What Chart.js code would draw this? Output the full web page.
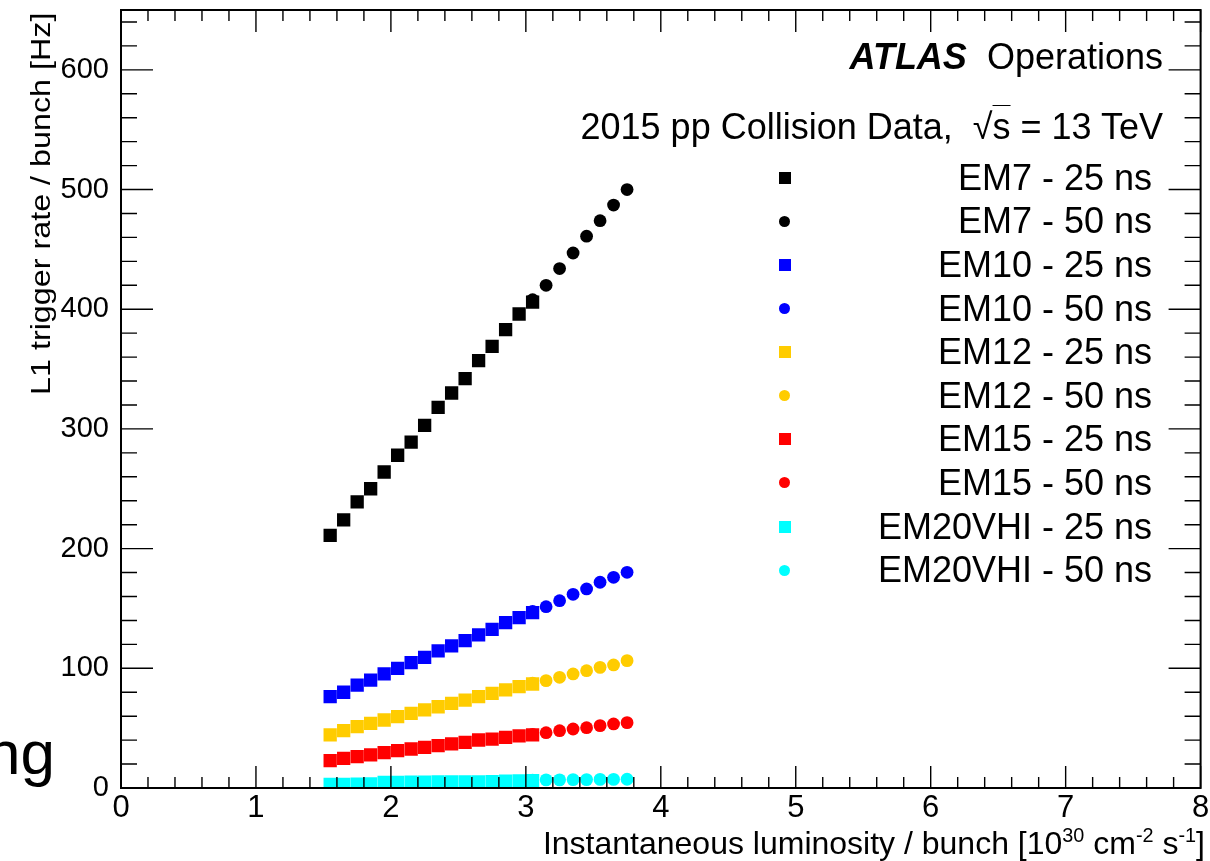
<!DOCTYPE html>
<html>
<head>
<meta charset="utf-8">
<title>L1 trigger rate per bunch</title>
<script src="https://cdn.jsdelivr.net/npm/chart.js@4/dist/chart.umd.min.js"></script>
<style>
  html, body { margin: 0; padding: 0; background: #fff; overflow: hidden; }
  #wrap {
    position: relative; width: 1210px; height: 861px;
    font-family: "Liberation Sans", Arial, Helvetica, sans-serif; color: #000;
  }
  #plot { position: absolute; left: 0; top: 0; }
  .txt { position: absolute; white-space: nowrap; }
  .txt sup { font-size: 0.62em; line-height: 0; vertical-align: 0.62em; }
  .root-s { text-decoration: overline; text-decoration-thickness: 1px; }
  #ytitle {
    position: absolute; left: 27px; top: 395px; width: 383px; height: 28px;
    transform-origin: 0 0; transform: rotate(-90deg);
    font-size: 28px; line-height: 28px; white-space: nowrap;
  }
  #ytitle span { display: inline-block; transform-origin: 0 50%; }
  #legend { position: absolute; left: 760px; top: 156px; width: 392px; }
  .row { position: relative; height: 43.6px; }
  .row .mk { position: absolute; left: 19px; top: 50%; }
  .row .lb { position: absolute; right: 0; top: 50%; transform: translateY(-50%); font-size: 36px; line-height: 36px; }
</style>
</head>
<body>
<div id="wrap">
  <canvas id="plot" width="1210" height="861"></canvas>
  <div class="txt" style="left:-14px; top:722px; font-size:62px; line-height:62px;">ng</div>
  <div class="txt" style="right:47px; top:39px; font-size:36px; line-height:36px;"><b><i>ATLAS</i></b>&nbsp;&nbsp;Operations</div>
  <div class="txt" style="right:47px; top:109px; font-size:36px; line-height:36px;">2015 pp Collision Data, &nbsp;√<span class="root-s">s</span> = 13 TeV</div>
  <div id="legend"></div>
  <div id="ytitle"><span>L1 trigger rate / bunch [Hz]</span></div>
  <div class="txt" style="right:5px; top:827px; font-size:32px; line-height:32px;">Instantaneous luminosity / bunch [10<sup>30</sup> cm<sup>-2</sup> s<sup>-1</sup>]</div>
</div>
<script>
// 亮度（x）：25 ns 與 50 ns 的取樣點
const lumi25 = [1.55, 1.65, 1.75, 1.85, 1.95, 2.05, 2.15, 2.25, 2.35, 2.45, 2.55, 2.65, 2.75, 2.85, 2.95, 3.05];
const lumi50 = [3.05, 3.15, 3.25, 3.35, 3.45, 3.55, 3.65, 3.75];

// 觸發率 [Hz]，自圖上讀值
const em7_25 = [211, 224, 239, 250, 264, 278, 289, 303, 318, 330, 342, 357, 369, 383, 396, 406];
const em7_50 = [408, 420, 434, 447, 461, 474, 487, 500];
const em10_25 = [76.3, 80, 86, 90.2, 95.3, 100, 104.7, 109.2, 114.5, 118.7, 123.1, 127.9, 132.6, 138.2, 142.4, 146.5];
const em10_50 = [147.5, 151.5, 156.5, 161.8, 166.3, 171.9, 176, 180.2];
const em12_25 = [44.3, 47.9, 51.2, 54, 56.8, 59.6, 62.3, 65.2, 67.9, 70.7, 73.5, 76.3, 79.1, 81.9, 84.7, 86.9];
const em12_50 = [87.5, 89.7, 92.5, 95.3, 98, 100.8, 102.8, 106.4];
const em15_25 = [22.8, 24.8, 26.2, 27.6, 29.5, 31.2, 32.6, 34, 35.4, 36.8, 38.2, 40.1, 40.9, 42.3, 43.5, 44.3];
const em15_50 = [44.8, 46.2, 47.9, 49.3, 50.4, 52.1, 53.5, 54.6];
const em20vhi_25 = [3.0, 3.1, 3.3, 3.4, 4.6, 4.7, 4.8, 4.9, 5.0, 5.0, 5.1, 5.2, 5.3, 5.8, 6.0, 6.2];
const em20vhi_50 = [6.6, 6.8, 6.8, 7.0, 7.0, 7.2, 7.2, 7.3];

const seriesLabels = [
    'EM7 - 25 ns', 'EM7 - 50 ns', 'EM10 - 25 ns', 'EM10 - 50 ns', 'EM12 - 25 ns',
    'EM12 - 50 ns', 'EM15 - 25 ns', 'EM15 - 50 ns', 'EM20VHI - 25 ns', 'EM20VHI - 50 ns'
];
const seriesValues = [em7_25, em7_50, em10_25, em10_50, em12_25, em12_50, em15_25, em15_50, em20vhi_25, em20vhi_50];
const seriesColors = ['#000000', '#000000', '#0000ff', '#0000ff', '#ffcc00', '#ffcc00', '#ff0000', '#ff0000', '#00ffff', '#00ffff'];

// 座標軸範圍與刻度
const X_MIN = 0, X_MAX = 8, X_MAJOR = 1, X_MINOR = 0.2;
const Y_MIN = 0, Y_MAX = 650, Y_MAJOR = 100, Y_MINOR = 20;

const FONT = '"Liberation Sans", Arial, Helvetica, sans-serif';

const datasets = seriesLabels.map((label, i) => {
    const is25 = i % 2 === 0;
    const xs = is25 ? lumi25 : lumi50;
    return {
        label,
        data: seriesValues[i].map((v, k) => ({ x: xs[k], y: v })),
        pointStyle: is25 ? 'rect' : 'circle',
        pointRadius: is25 ? 9.4 : 6.4,
        pointBorderWidth: 0,
        pointBackgroundColor: seriesColors[i],
        borderColor: seriesColors[i],
        showLine: false,
        // ROOT 後畫的在上層：order 越小越晚畫
        order: seriesLabels.length - i
    };
});

/** ROOT 風格：四邊框線、刻度朝內，主刻度長、次刻度短 */
const rootFrame = {
    id: 'rootFrame',
    afterDatasetsDraw(chart) {
        const { ctx, chartArea: a, scales: { x, y } } = chart;
        ctx.save();
        ctx.strokeStyle = '#000';
        ctx.lineWidth = 1.4;
        ctx.beginPath();
        const nx = Math.round((X_MAX - X_MIN) / X_MINOR);
        for (let k = 0; k <= nx; k++) {
            const v = X_MIN + k * X_MINOR;
            const px = x.getPixelForValue(v);
            const major = Math.abs(v / X_MAJOR - Math.round(v / X_MAJOR)) < 1e-6;
            const len = major ? 22 : 11;
            ctx.moveTo(px, a.bottom); ctx.lineTo(px, a.bottom - len);
            ctx.moveTo(px, a.top); ctx.lineTo(px, a.top + len);
        }
        const ny = Math.round((Y_MAX - Y_MIN) / Y_MINOR);
        for (let k = 0; k <= ny; k++) {
            const v = Y_MIN + k * Y_MINOR;
            const py = y.getPixelForValue(v);
            const major = v % Y_MAJOR === 0;
            const len = major ? 32 : 16;
            ctx.moveTo(a.left, py); ctx.lineTo(a.left + len, py);
            ctx.moveTo(a.right, py); ctx.lineTo(a.right - len, py);
        }
        ctx.stroke();
        ctx.lineWidth = 2;
        ctx.strokeRect(a.left, a.top, a.right - a.left, a.bottom - a.top);
        ctx.restore();
    }
};

const chart = new Chart(document.getElementById('plot'), {
    type: 'scatter',
    data: { datasets },
    options: {
        responsive: false,
        animation: false,
        devicePixelRatio: 1,
        layout: { padding: { top: 10, right: 5, left: 0, bottom: 0 } },
        plugins: { legend: { display: false }, tooltip: { enabled: false } },
        scales: {
            x: {
                type: 'linear', min: X_MIN, max: X_MAX,
                // 刻度由 rootFrame 畫（朝內），Chart.js 只負責標籤
                grid: { display: false, drawTicks: false }, border: { display: false },
                ticks: {
                    stepSize: X_MAJOR, color: '#000', padding: 5, maxRotation: 0,
                    font: { family: FONT, size: 31, lineHeight: 1 }
                },
                afterFit(scale) { scale.height = 73; scale.paddingLeft = 0; scale.paddingRight = 0; }
            },
            y: {
                type: 'linear', min: Y_MIN, max: Y_MAX,
                grid: { display: false, drawTicks: false }, border: { display: false },
                ticks: {
                    stepSize: Y_MAJOR, includeBounds: false, color: '#000', padding: 12,
                    font: { family: FONT, size: 29, lineHeight: 1 }
                },
                afterFit(scale) { scale.width = 121; scale.paddingTop = 0; scale.paddingBottom = 0; }
            }
        }
    },
    plugins: [rootFrame]
});

// Y 軸標題：原圖字形偏窄長，依原長度拉伸
const ySpan = document.querySelector('#ytitle span');
ySpan.style.transform = `scaleX(${383 / ySpan.offsetWidth})`;

// 圖例：由資料集產生，標記在左、文字靠右
const legend = document.getElementById('legend');
chart.data.datasets.forEach((ds) => {
    const row = document.createElement('div');
    row.className = 'row';
    const mk = document.createElement('span');
    mk.className = 'mk';
    const square = ds.pointStyle === 'rect';
    const size = square ? 12 : 11;
    mk.style.cssText = `width:${size}px;height:${size}px;margin-top:${-size / 2}px;background:${ds.pointBackgroundColor};border-radius:${square ? 0 : '50%'}`;
    const lb = document.createElement('span');
    lb.className = 'lb';
    lb.textContent = ds.label;
    row.append(mk, lb);
    legend.appendChild(row);
});
</script>
</body>
</html>
